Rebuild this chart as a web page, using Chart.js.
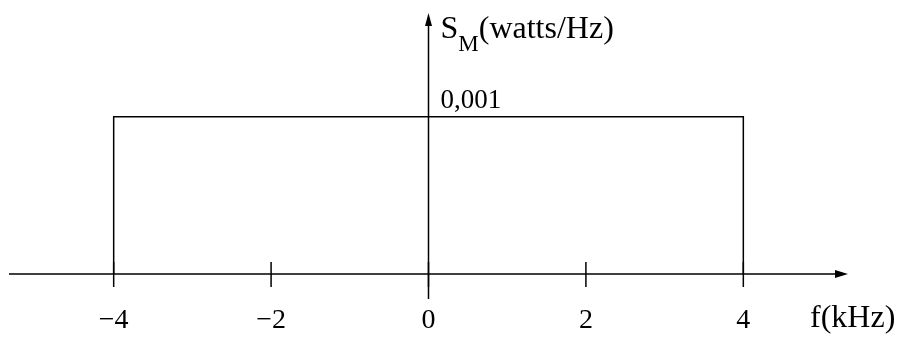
<!DOCTYPE html>
<html>
<head>
<meta charset="utf-8">
<script src="https://cdn.jsdelivr.net/npm/chart.js@4"></script>
<style>
  html, body { margin: 0; padding: 0; background: #fff; }
  #wrap { width: 906px; height: 338px; }
</style>
</head>
<body>
<div id="wrap"><canvas id="spectrum"></canvas></div>
<script>
// spectrum data (f in kHz, S_M in watts/Hz)
const freqs = [-4, -4, 4, 4];
const power = [0, 0.001, 0.001, 0];
const xTicks = [-4, -2, 0, 2, 4];
const xTickLabels = ['\u22124', '\u22122', '0', '2', '4'];
const levelLabel = '0,001';
const xTitle = 'f(kHz)';
const yTitle = ['S', 'M', '(watts/Hz)'];

const FONT = '"Liberation Serif", "Times New Roman", serif';

// draws the axes, arrows, ticks and labels on top of the chart
const axesPlugin = {
    id: 'axes',
    afterDatasetsDraw: function(chart) {
        const ctx = chart.ctx;
        const xs = chart.scales.x, ys = chart.scales.y;
        const x0 = xs.getPixelForValue(0);
        const y0 = ys.getPixelForValue(0);
        const left = xs.getPixelForValue(xs.min), right = xs.getPixelForValue(xs.max);
        const top = ys.getPixelForValue(ys.max);

        ctx.save();
        ctx.strokeStyle = '#000';
        ctx.fillStyle = '#000';
        ctx.lineWidth = 1.5;

        // x axis
        ctx.beginPath();
        ctx.moveTo(left, y0);
        ctx.lineTo(right - 8, y0);
        ctx.stroke();
        ctx.beginPath();
        ctx.moveTo(right, y0);
        ctx.lineTo(right - 13, y0 - 4);
        ctx.lineTo(right - 13, y0 + 4);
        ctx.closePath();
        ctx.fill();

        // y axis (runs a bit below the x axis)
        ctx.beginPath();
        ctx.moveTo(x0, y0 + 25);
        ctx.lineTo(x0, top + 8);
        ctx.stroke();
        ctx.beginPath();
        ctx.moveTo(x0, top);
        ctx.lineTo(x0 - 3.5, top + 13);
        ctx.lineTo(x0 + 3.5, top + 13);
        ctx.closePath();
        ctx.fill();

        // ticks + labels
        ctx.font = '28px ' + FONT;
        ctx.textAlign = 'center';
        ctx.textBaseline = 'alphabetic';
        xTicks.forEach(function(v, i) {
            const px = xs.getPixelForValue(v);
            ctx.beginPath();
            ctx.moveTo(px, y0 - 12);
            ctx.lineTo(px, y0 + 13);
            ctx.stroke();
            ctx.fillText(xTickLabels[i], px, y0 + 54);
        });

        // axis titles
        ctx.textAlign = 'left';
        ctx.font = '32px ' + FONT;
        ctx.fillText(xTitle, 810, y0 + 53);

        ctx.font = '27px ' + FONT;
        ctx.fillText(levelLabel, x0 + 12, ys.getPixelForValue(0.001) - 9);

        let tx = x0 + 12;
        ctx.font = '32px ' + FONT;
        ctx.fillText(yTitle[0], tx, 38);
        tx += ctx.measureText(yTitle[0]).width;
        ctx.font = '23px ' + FONT;
        ctx.fillText(yTitle[1], tx, 51);
        tx += ctx.measureText(yTitle[1]).width;
        ctx.font = '32px ' + FONT;
        ctx.fillText(yTitle[2], tx, 38);

        ctx.restore();
    }
};

new Chart(document.getElementById('spectrum'), {
    type: 'line',
    data: {
        datasets: [{
            data: freqs.map(function(f, i) { return { x: f, y: power[i] }; }),
            borderColor: '#000',
            borderWidth: 1.5,
            pointRadius: 0,
            fill: false,
            tension: 0
        }]
    },
    options: {
        responsive: true,
        maintainAspectRatio: false,
        animation: false,
        events: [],
        layout: { padding: { left: 9, right: 58, top: 13, bottom: 64 } },
        scales: {
            x: { type: 'linear', min: -5.33, max: 5.33, display: false },
            y: { type: 'linear', min: 0, max: 0.00166, display: false }
        },
        plugins: {
            legend: { display: false },
            tooltip: { enabled: false }
        }
    },
    plugins: [axesPlugin]
});
</script>
</body>
</html>
